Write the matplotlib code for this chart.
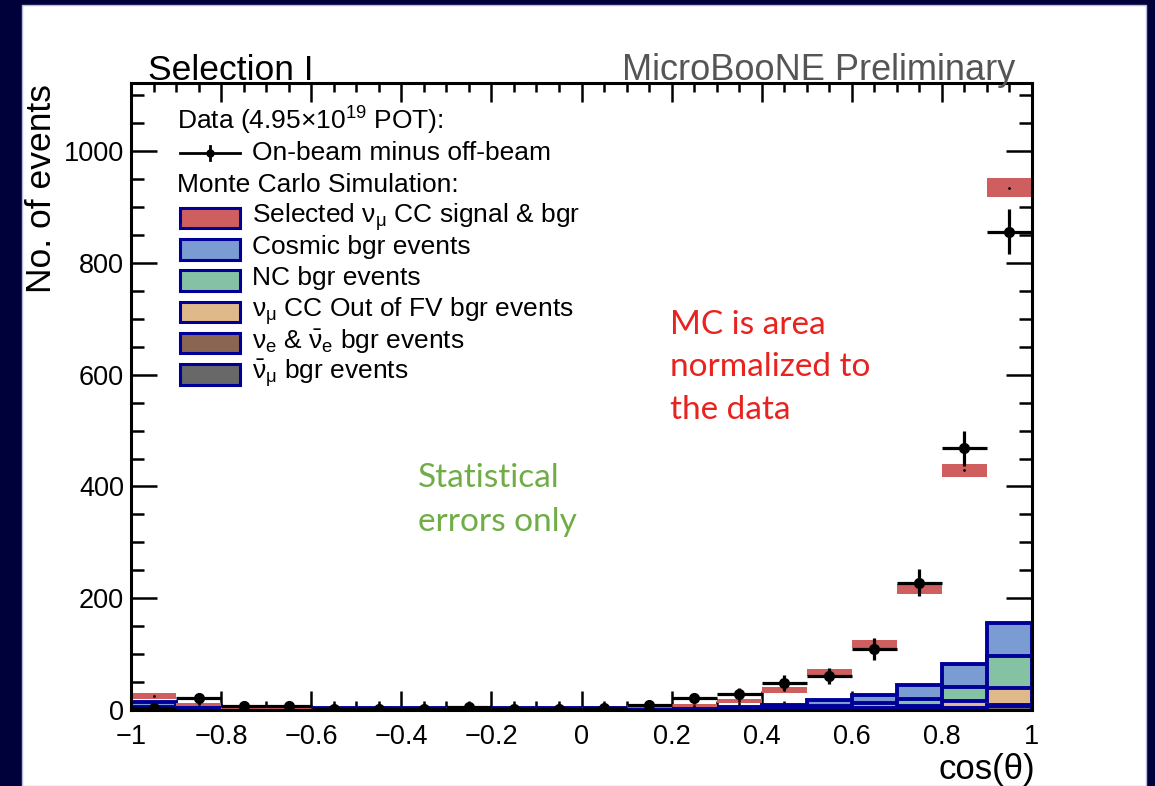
import numpy as np
import matplotlib
matplotlib.use("Agg")
import matplotlib.pyplot as plt
from matplotlib.patches import Rectangle
from matplotlib.ticker import MultipleLocator, FuncFormatter

plt.rcParams['font.family'] = ['Liberation Sans', 'DejaVu Sans']
plt.rcParams['mathtext.fontset'] = 'custom'
plt.rcParams['mathtext.rm'] = 'Liberation Sans'
plt.rcParams['mathtext.it'] = 'Liberation Sans'
plt.rcParams['mathtext.bf'] = 'Liberation Sans:bold'
plt.rcParams['mathtext.sf'] = 'Liberation Sans'

# ---------------- data ----------------
bin_edges = np.round(np.arange(-1.0, 1.0001, 0.1), 2)
bin_centers = (bin_edges[:-1] + bin_edges[1:]) / 2

data_vals = [3, 21, 8, 7, 1, 1, 2, 6, 2, 2, 3, 9, 21, 29, 49, 61, 109, 228, 468, 856]
data_errs = [8, 10, 8, 8, 7, 7, 7, 8, 7, 7, 7, 8, 10, 11, 14, 15, 20, 24, 31, 40]

signal_vals = [25, 10, 4, 3, 2, 2, 2, 3, 2, 2, 3, 6, 8, 16, 36, 67, 118, 217, 429, 935]
signal_errs = [5, 3, 2, 2, 1.5, 1.5, 1.5, 2, 1.5, 1.5, 2, 2.5, 3, 4, 5, 6, 7, 9, 12, 17]

numubar_bgr = [0.5, 0.3, 0.3, 0.3, 0.3, 0.3, 0.3, 0.3, 0.3, 0.3, 0.3, 0.3, 0.3, 0.3, 0.3, 0.5, 1, 2, 3, 8]
nue_bgr     = [0.2, 0.1, 0, 0, 0, 0, 0, 0, 0, 0, 0, 0, 0, 0, 0.1, 0.1, 0.2, 0.3, 0.5, 1]
oofv_bgr    = [1, 0.5, 0.5, 0.5, 0.4, 0.4, 0.4, 0.4, 0.4, 0.4, 0.4, 0.4, 0.4, 0.5, 1, 2, 3, 5, 13, 30]
nc_bgr      = [3, 2, 1, 1, 0.8, 0.8, 0.8, 0.8, 0.8, 0.8, 0.8, 0.8, 0.8, 1, 2, 4.5, 8, 12, 24, 58]
cosmic_bgr  = [9, 5, 3.5, 3, 2.5, 2.5, 2.5, 2.5, 2.5, 2.5, 2.5, 2.5, 2.5, 3, 5, 10, 15, 26, 41, 58]

x_ticks = [-1, -0.8, -0.6, -0.4, -0.2, 0, 0.2, 0.4, 0.6, 0.8, 1]
y_ticks = [0, 200, 400, 600, 800, 1000]

legend_labels = [
    "Selected $\\nu_{\\mu}$ CC signal & bgr",
    "Cosmic bgr events",
    "NC bgr events",
    "$\\nu_{\\mu}$ CC Out of FV bgr events",
    "$\\nu_{e}$ & $\\bar{\\nu}_{e}$ bgr events",
    "$\\bar{\\nu}_{\\mu}$ bgr events",
]

# ---------------- style ----------------
c_red = '#cf5f5f'
c_cosmic = '#7b9bd3'
c_nc = '#84c2a3'
c_oofv = '#e0b98a'
c_nue = '#8a6552'
c_numubar = '#686868'
c_edge = '#000099'
legend_colors = [c_red, c_cosmic, c_nc, c_oofv, c_nue, c_numubar]

W, H = 1155, 786
fig = plt.figure(figsize=(W / 100, H / 100), dpi=100)
fig.patch.set_facecolor('#00003a')
fig.patches.append(Rectangle((22 / W, 0), 1124 / W, 781 / H, transform=fig.transFigure,
                             facecolor='white', edgecolor='#b8b8e0', lw=1, zorder=-10))

ax = fig.add_axes([131 / W, 1 - 710 / H, 901 / W, 627 / H])
ax.set_zorder(1)
ax.set_facecolor('white')
ax.set_xlim(-1, 1)
ax.set_ylim(0, 1122)

# stacked backgrounds (cumulative from bottom)
stack = np.cumsum(np.array([numubar_bgr, nue_bgr, oofv_bgr, nc_bgr, cosmic_bgr]), axis=0)
stack_colors = [c_numubar, c_nue, c_oofv, c_nc, c_cosmic]
for i in range(len(stack) - 1, -1, -1):
    ax.stairs(stack[i], bin_edges, baseline=0, fill=True, facecolor=stack_colors[i],
              edgecolor=c_edge, linewidth=2.8, zorder=2 + (len(stack) - i) * 0.1)

# signal as error boxes
sv = np.array(signal_vals, dtype=float)
se = np.array(signal_errs, dtype=float)
ax.bar(bin_centers, 2 * se, bottom=sv - se, width=0.1, color=c_red, linewidth=0, zorder=3)
ax.plot(bin_centers, sv, linestyle='none', marker='.', ms=2, color='black', zorder=3.1)

# data
ax.errorbar(bin_centers, data_vals, xerr=0.05, yerr=data_errs, fmt='o', color='black',
            ms=7, elinewidth=2.3, capsize=0, zorder=5)

# axes styling
for s in ax.spines.values():
    s.set_linewidth(2.2)
    s.set_zorder(6)
ax.set_xticks(x_ticks)
ax.set_yticks(y_ticks)
ax.xaxis.set_minor_locator(MultipleLocator(0.05))
ax.yaxis.set_minor_locator(MultipleLocator(50))
ax.xaxis.set_major_formatter(FuncFormatter(lambda v, p: ('%g' % v).replace('-', '\u2212')))
ax.tick_params(which='both', direction='in', top=True, right=True, width=1.8, labelsize=19.5)
ax.tick_params(axis='x', which='major', length=13.7, pad=10)
ax.tick_params(axis='x', which='minor', length=6.8)
ax.tick_params(axis='y', which='major', length=18.7, pad=5)
ax.tick_params(axis='y', which='minor', length=9.4)

# axis titles
fig.text(1035 / W, 1 - 770 / H, "cos(\u03b8)", ha='right', va='center', fontsize=25)
fig.text(42 / W, 1 - 84 / H, "No. of events", rotation=90, ha='center', va='top', fontsize=25.5)
fig.text(148 / W, 1 - 80 / H, "Selection I", ha='left', va='baseline', fontsize=25.5)
fig.text(1015 / W, 1 - 80 / H, "MicroBooNE Preliminary", ha='right', va='baseline',
         fontsize=26, color='#555555')

# legend (manual, ROOT-like)
def fx(px):
    return (px - 131) / 901

def fy(py):
    return (710 - py) / 627

LFS = 19
ax.text(fx(177), fy(130), "Data (4.95\u00d710$^{19}$ POT):", transform=ax.transAxes,
        fontsize=LFS, va='baseline', ha='left', zorder=7)
ax.plot([fx(180), fx(240)], [fy(153), fy(153)], transform=ax.transAxes, color='black', lw=2, zorder=7)
ax.plot([fx(210), fx(210)], [fy(146), fy(160)], transform=ax.transAxes, color='black', lw=2, zorder=7)
ax.plot([fx(210)], [fy(153)], transform=ax.transAxes, marker='o', ms=5, color='black', zorder=7)
ax.text(fx(252), fy(160), "On-beam minus off-beam", transform=ax.transAxes,
        fontsize=LFS, va='baseline', ha='left', zorder=7)
ax.text(fx(177), fy(191.7), "Monte Carlo Simulation:", transform=ax.transAxes,
        fontsize=LFS, va='baseline', ha='left', zorder=7)
base0 = 222.7
step = 31.3
for k, (lab, col) in enumerate(zip(legend_labels, legend_colors)):
    b = base0 + k * step
    ax.add_patch(Rectangle((fx(180), fy(b + 5.5)), fx(240) - fx(180), fy(b - 15) - fy(b + 5.5),
                           transform=ax.transAxes, facecolor=col, edgecolor=c_edge, lw=2.2, zorder=7))
    ax.text(fx(252), fy(b), lab, transform=ax.transAxes, fontsize=LFS, va='baseline',
            ha='left', zorder=7)

# annotations
red_lines = ["MC is area", "normalized to", "the data"]
red_y = [325, 367, 410]
for t, yy in zip(red_lines, red_y):
    fig.text(670 / W, 1 - yy / H, t, ha='left', va='center', fontsize=24,
             color='#e8231f', family=['Lato', 'DejaVu Sans'], zorder=5)
green_lines = ["Statistical", "errors only"]
green_y = [478, 522]
for t, yy in zip(green_lines, green_y):
    fig.text(418 / W, 1 - yy / H, t, ha='left', va='center', fontsize=24,
             color='#70ad47', family=['Lato', 'DejaVu Sans'], zorder=5)

fig.savefig("out.png", dpi=100, facecolor=fig.get_facecolor())
